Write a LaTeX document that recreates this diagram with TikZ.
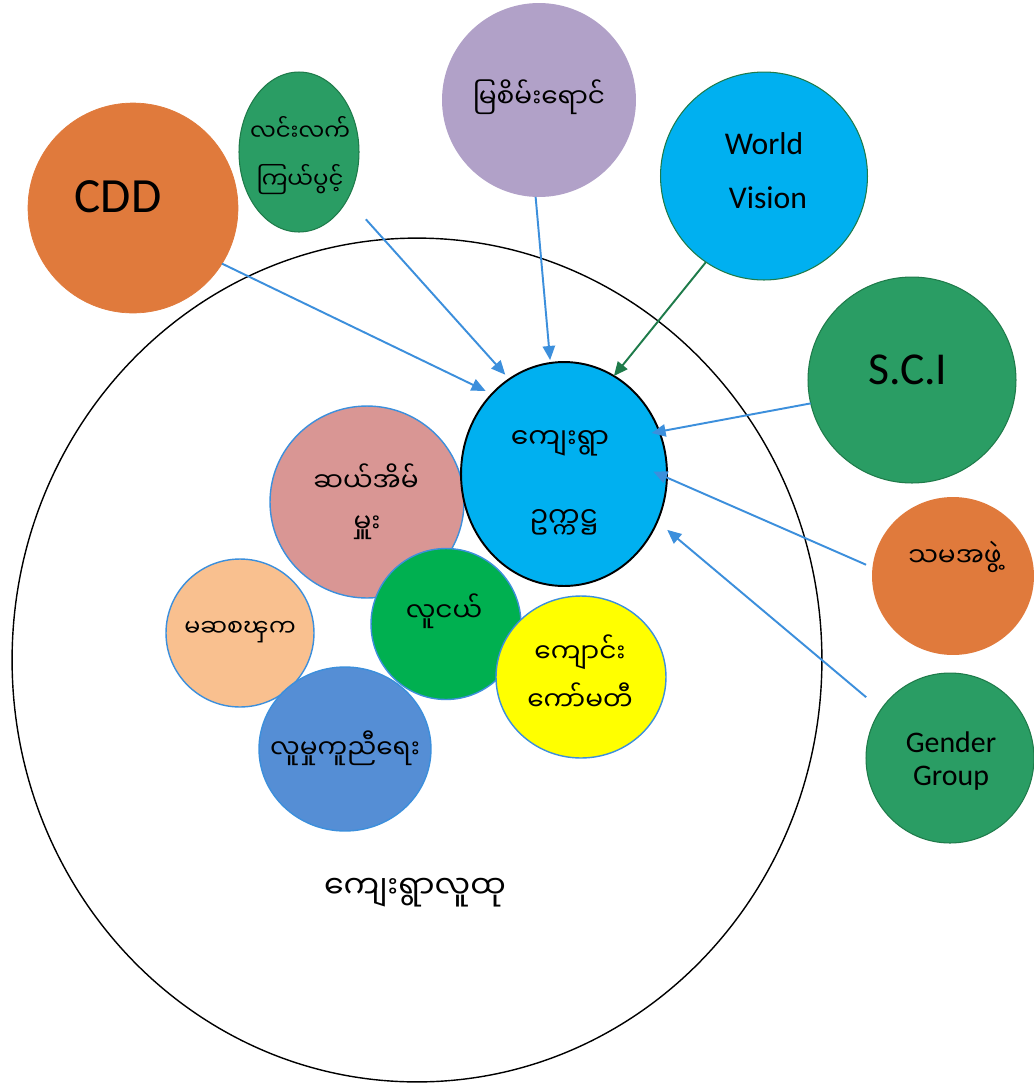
\documentclass[tikz,border=0pt]{standalone}
\usepackage{fontspec}
\setmainfont{Carlito}
\newfontfamily\mya[Script=Myanmar]{Noto Sans Myanmar UI}
\usetikzlibrary{shapes.geometric,arrows.meta}
\definecolor{cOrange}{HTML}{E07A3C}
\definecolor{cGreen}{HTML}{2A9D64}
\definecolor{cGreenDk}{HTML}{1E7B4A}
\definecolor{cPurple}{HTML}{B1A1C8}
\definecolor{cCyan}{HTML}{00B0F0}
\definecolor{cPink}{HTML}{D99694}
\definecolor{cPeach}{HTML}{F9C08F}
\definecolor{cBright}{HTML}{00B050}
\definecolor{cYellow}{HTML}{FFFF00}
\definecolor{cBlue}{HTML}{558ED5}
\definecolor{cLine}{HTML}{3C8FDC}
\begin{document}
\begin{tikzpicture}[x=0.02cm,y=-0.02cm,
  bub/.style={ellipse, inner sep=0pt, outer sep=0pt},
  inner/.style={bub, draw=cLine, line width=0.8pt},
  mtext/.style={font=\mya\fontsize{15}{18}\selectfont, inner sep=0pt},
  ltext/.style={font=\fontsize{18}{22}\selectfont, inner sep=0pt},
  arr/.style={draw=cLine, line width=1.1pt, -{Triangle[length=8pt,width=7pt]}}
]
\useasboundingbox (0,0) rectangle (1034,1083);
\fill[white] (0,0) rectangle (1034,1083);

% big community circle
\node[bub, draw=black, line width=0.8pt, fill=white, minimum width=16.2cm, minimum height=16.88cm] (big) at (417,660) {};
\node[mtext, font=\mya\fontsize{18}{22}\selectfont] (bigt) at (415,893) {ကျေးရွာလူထု};

% outer organisations
\node[bub, fill=cOrange, draw=cOrange, minimum width=4.2cm, minimum height=4.2cm] (cdd) at (133,208) {};
\node[ltext, font=\fontsize{28}{32}\selectfont] (cddt) at (118,197) {CDD};

\node[bub, fill=cGreen, draw=cGreenDk, line width=0.6pt, minimum width=2.4cm, minimum height=3.2cm] (lin) at (299,152) {};
\node[mtext, font=\mya\fontsize{13}{16}\selectfont] (lint1) at (300,128) {လင်းလက်};
\node[mtext, font=\mya\fontsize{13}{16}\selectfont] (lint2) at (300,180) {ကြယ်ပွင့်};

\node[bub, fill=cPurple, minimum width=3.88cm, minimum height=3.88cm] (myat) at (539,100) {};
\node[mtext] (myatt) at (539,97) {မြစိမ်းရောင်};

\node[bub, fill=cCyan, draw=cGreenDk, line width=0.6pt, minimum width=4.14cm, minimum height=4.16cm] (wv) at (764,176) {};
\node[ltext] (wvt1) at (764,144) {World};
\node[ltext] (wvt2) at (768,198) {Vision};

\node[bub, fill=cGreen, draw=cGreenDk, line width=0.6pt, minimum width=4.16cm, minimum height=4.12cm] (sci) at (912,380) {};
\node[ltext, font=\fontsize{26}{30}\selectfont] (scit) at (908,370) {S.C.I};

\node[bub, fill=cOrange, minimum width=3.24cm, minimum height=3.16cm] (sama) at (953,576) {};
\node[mtext] (samat) at (955,557) {သမအဖွဲ့};

\node[bub, fill=cGreen, draw=cGreenDk, line width=0.6pt, minimum width=3.36cm, minimum height=3.4cm] (gen) at (950,758) {};
\node[ltext, font=\fontsize{17}{20}\selectfont] (gent1) at (951,742) {Gender};
\node[ltext, font=\fontsize{17}{20}\selectfont] (gent2) at (951,778) {Group};

% inner groups
\node[inner, fill=cPink, minimum width=3.88cm, minimum height=3.84cm] (pink) at (367,502) {};
\node[mtext] (pinkt1) at (366,478) {ဆယ်အိမ်};
\node[mtext] (pinkt2) at (367,528) {မှူး};

\node[inner, fill=cPeach, minimum width=2.96cm, minimum height=2.96cm] (peach) at (240,633) {};
\node[mtext, font=\mya\fontsize{13.5}{16}\selectfont] (peacht) at (240,632) {မဆစၾက};

\node[inner, fill=cBright, minimum width=3.0cm, minimum height=3.02cm] (youth) at (446,624) {};
\node[mtext] (youtht) at (444,611) {လူငယ်};

\node[inner, fill=cBlue, minimum width=3.44cm, minimum height=3.28cm] (blu) at (345,749) {};
\node[mtext] (blut) at (345,748) {လူမှုကူညီရေး};

\node[inner, fill=cYellow, minimum width=3.4cm, minimum height=3.24cm] (yel) at (581,677) {};
\node[mtext] (yelt1) at (580,652) {ကျောင်း};
\node[mtext] (yelt2) at (580,697) {ကော်မတီ};

% central node
\node[bub, fill=cCyan, draw=black, line width=1.1pt, minimum width=4.12cm, minimum height=4.48cm] (ctr) at (564,474) {};
\node[mtext, font=\mya\fontsize{16}{19}\selectfont] (ctrt1) at (560,443) {ကျေးရွာ};
\node[mtext, font=\mya\fontsize{16}{19}\selectfont] (ctrt2) at (564,522) {ဥက္ကဋ္ဌ};

% arrows
\draw[arr, shorten >=4pt] (cdd.-32) -- (ctr.132);
\draw[arr, shorten <=15.6pt, shorten >=3.4pt] (lin.-44) -- (ctr.120);
\draw[arr, shorten >=1.7pt] (myat.-92) -- (ctr.97);
\draw[arr, draw=cGreenDk] (wv.-124) -- (ctr.63);
\draw[arr, shorten >=-4.5pt] (sci.-167) -- (ctr.24);
\draw[arr, shorten <=4pt, shorten >=-8.5pt] (sama.174) -- (ctr.-2);
\draw[arr, shorten <=11pt, shorten >=7.4pt] (gen.145) -- (ctr.-27);
\end{tikzpicture}
\end{document}
